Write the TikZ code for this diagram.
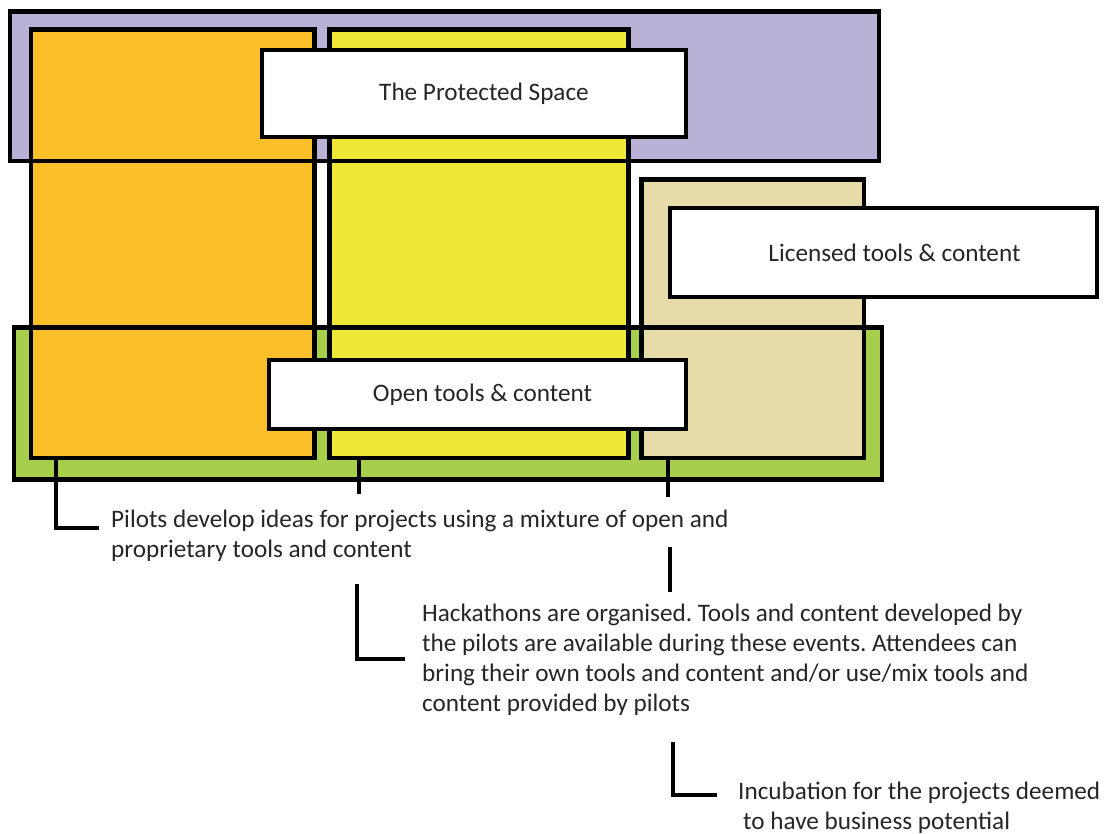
\documentclass[tikz,border=0pt]{standalone}
\usepackage{fontspec}
\setmainfont{Carlito}
\frenchspacing
\definecolor{purp}{RGB}{185,178,214}
\definecolor{orng}{RGB}{251,191,42}
\definecolor{yell}{RGB}{240,232,54}
\definecolor{tan}{RGB}{230,219,169}
\definecolor{grn}{RGB}{168,207,75}
\definecolor{txt}{RGB}{38,38,38}
\begin{document}
\begin{tikzpicture}[x=1pt,y=-1pt,
  area/.style={draw=black,line width=4.5pt,inner sep=0pt,outer sep=0pt},
  frame/.style={draw=black,line width=4.5pt},
  box/.style={draw=black,fill=white,line width=4.5pt,inner sep=0pt,outer sep=0pt,text=txt},
  note/.style={inner sep=0pt,align=left,anchor=base west,text=txt},
  conn/.style={draw=black,line width=4.2pt}]
\fontsize{25.2}{30}\selectfont
\useasboundingbox[fill=white] (0,0) rectangle (1105,834);
% background areas
\node[area,fill=purp,minimum width=869,minimum height=149.5] (prot) at (444.5,86.25) {};
\node[area,fill=grn,minimum width=868,minimum height=152] (open) at (448,403.5) {};
\node[area,fill=orng,minimum width=283.5,minimum height=428.5] (pil) at (172.75,243.75) {};
\node[area,fill=yell,minimum width=299,minimum height=428.5] (hack) at (479,243.75) {};
\node[area,fill=tan,minimum width=222.5,minimum height=278.5] (incu) at (752.75,318.75) {};
% outlines of the two spanning areas over the columns
\draw[frame] (prot.north west) rectangle (prot.south east);
\draw[frame] (open.north west) rectangle (open.south east);
% labels
\node[box,minimum width=424,minimum height=87] (protlbl) at (474,93.5) {\hspace{20pt}The Protected Space};
\node[box,minimum width=427,minimum height=89] (liclbl) at (883.5,252.5) {\hspace{22pt}Licensed tools \& content};
\node[box,minimum width=417,minimum height=69] (openlbl) at (477.5,394.5) {\hspace{10pt}Open tools \& content};
% notes (anchored at the baseline of their last line)
\node[note] (n1) at (111,557) {Pilots develop ideas for projects using a mixture of open and\\proprietary tools and content};
\node[note] (n2) at (422,711) {Hackathons are organised. Tools and content developed by\\the pilots are available during these events. Attendees can\\bring their own tools and content and/or use/mix tools and\\content provided by pilots};
\node[note] (n3) at (738,829) {Incubation for the projects deemed\\\hspace{5pt}to have business potential};
% connectors
\coordinate (a1) at (56,458);
\coordinate (a2) at (56,528);
\coordinate (a3) at (99,528);
\draw[conn] (a1) -- (a2) -- (a3);
\coordinate (b1) at (359,456);
\coordinate (b2) at (359,494);
\draw[conn] (b1) -- (b2);
\coordinate (b3) at (357,584);
\coordinate (b4) at (357,659);
\coordinate (b5) at (405,659);
\draw[conn] (b3) -- (b4) -- (b5);
\coordinate (t1) at (668,458);
\coordinate (t2) at (668,497);
\draw[conn] (t1) -- (t2);
\coordinate (t3) at (670,547);
\coordinate (t4) at (670,592);
\draw[conn] (t3) -- (t4);
\coordinate (i1) at (673,742);
\coordinate (i2) at (673,795);
\coordinate (i3) at (717,795);
\draw[conn] (i1) -- (i2) -- (i3);
\end{tikzpicture}
\end{document}
